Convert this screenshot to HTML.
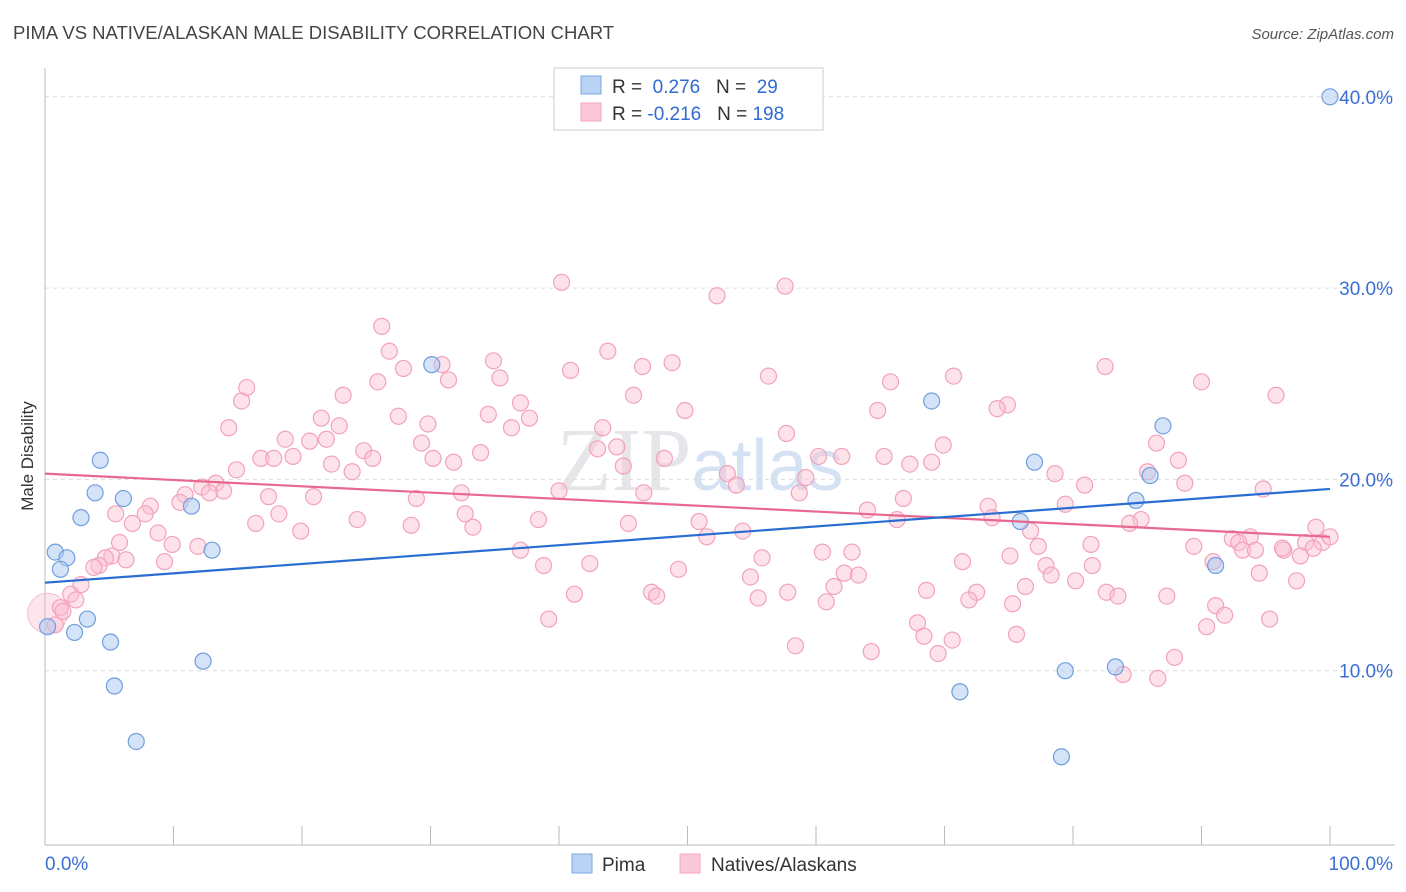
<!DOCTYPE html>
<html><head><meta charset="utf-8"><style>
body{margin:0;background:#fff;font-family:"Liberation Sans",sans-serif;}
svg{display:block}
</style></head><body>
<svg id="chart" width="1406" height="892" xmlns="http://www.w3.org/2000/svg">
<text x="13" y="39" font-size="18.5" fill="#444">PIMA VS NATIVE/ALASKAN MALE DISABILITY CORRELATION CHART</text>
<text x="1394" y="39" font-size="15" fill="#555" text-anchor="end" font-style="italic">Source: ZipAtlas.com</text>
<text transform="translate(33,456) rotate(-90)" font-size="17" fill="#333" text-anchor="middle">Male Disability</text>
<text x="700" y="490" font-size="90" fill="#e6e6ea" text-anchor="middle" font-family="Liberation Serif,serif">ZIP<tspan fill="#d4e2f4" font-family="Liberation Sans,sans-serif" font-size="72">atlas</tspan></text>
<g id="grid"></g><g id="axes"></g><g id="lines"></g><g id="points"></g>
<g>
<rect x="554" y="68" width="269" height="62" fill="#fff" stroke="#ccc"/>
<rect x="581" y="76" width="20" height="18" fill="#b9d3f5" stroke="#7aa7e0"/>
<rect x="581" y="103" width="20" height="18" fill="#fbc8d8" stroke="#f4a6c0"/>
<text x="612" y="93" font-size="19" fill="#333">R = <tspan fill="#2f6bd0">&#160;0.276</tspan>&#160;&#160;&#160;N = <tspan fill="#2f6bd0">&#160;29</tspan></text>
<text x="612" y="120" font-size="19" fill="#333">R = <tspan fill="#2f6bd0">-0.216</tspan>&#160;&#160;&#160;N = <tspan fill="#2f6bd0">198</tspan></text>
</g>
<g>
<rect x="572" y="854" width="20" height="19" fill="#b9d3f5" stroke="#7aa7e0"/>
<text x="602" y="871" font-size="19" fill="#333">Pima</text>
<rect x="680" y="854" width="20" height="19" fill="#fbc8d8" stroke="#f4a6c0"/>
<text x="711" y="871" font-size="19" fill="#333">Natives/Alaskans</text>
</g>
</svg>
<script>
const yTicks=[10,20,30,40];
const pimaX=[100,30.1,4.3,3.9,6.1,11.4,2.8,0.8,1.7,1.2,3.3,0.2,2.3,5.1,13.0,12.3,5.4,7.1,69.0,77.0,87.0,84.9,86.0,75.9,91.1,79.4,83.3,71.2,79.1];
const pimaY=[40.0,26.0,21.0,19.3,19.0,18.6,18.0,16.2,15.9,15.3,12.7,12.3,12.0,11.5,16.3,10.5,9.2,6.3,24.1,20.9,22.8,18.9,20.2,17.8,15.5,10.0,10.2,8.9,5.5];
const natX=[40.2,57.6,52.3,26.2,26.8,43.8,30.9,34.9,48.8,46.5,27.9,40.9,56.3,70.7,82.5,31.4,35.4,25.9,15.7,65.8,90.0,15.3,23.2,37.0,45.8,95.8,74.9,74.1,49.8,64.8,27.5,34.5,21.5,37.7,14.3,29.8,22.9,36.3,43.4,57.7,18.7,21.9,20.6,29.3,44.5,86.5,69.9,43.0,24.8,33.9,16.8,17.8,19.3,25.5,30.2,31.8,60.2,62.0,65.3,48.2,88.2,69.0,67.3,22.3,14.9,23.9,45.0,53.1,78.6,85.8,59.2,53.8,13.3,80.9,88.7,12.2,13.9,10.9,12.8,32.4,40.0,46.6,94.8,17.4,20.9,58.7,28.9,66.8,10.5,8.2,5.5,7.8,18.2,32.7,73.4,79.4,64.0,33.3,38.4,66.3,73.7,85.3,84.4,24.3,6.8,28.5,45.4,50.9,19.9,16.4,8.8,98.9,76.7,54.3,51.5,93.8,5.8,9.9,11.9,92.4,92.9,89.4,77.3,81.4,90.9,93.2,98.1,99.4,100,98.7,94.2,96.4,97.7,96.3,5.2,4.7,37.0,55.8,60.5,62.8,71.4,75.1,6.3,9.3,77.9,4.2,3.8,38.8,42.4,49.3,81.5,94.5,54.9,62.2,63.3,97.4,2.8,78.3,76.3,80.2,61.4,68.6,2.0,2.4,41.2,47.2,47.6,72.5,57.8,55.5,71.9,82.6,83.5,87.3,75.3,1.2,1.4,60.8,91.1,91.8,39.2,95.3,0.8,67.9,90.4,75.6,68.4,70.6,58.4,69.5,87.9,64.3,83.9,86.6];
const natY=[30.3,30.1,29.6,28.0,26.7,26.7,26.0,26.2,26.1,25.9,25.8,25.7,25.4,25.4,25.9,25.2,25.3,25.1,24.8,25.1,25.1,24.1,24.4,24.0,24.4,24.4,23.9,23.7,23.6,23.6,23.3,23.4,23.2,23.2,22.7,22.9,22.8,22.7,22.7,22.4,22.1,22.1,22.0,21.9,21.7,21.9,21.8,21.6,21.5,21.4,21.1,21.1,21.2,21.1,21.1,20.9,21.2,21.2,21.2,21.1,21.0,20.9,20.8,20.8,20.5,20.4,20.7,20.3,20.3,20.4,20.1,19.7,19.8,19.7,19.8,19.6,19.4,19.2,19.3,19.3,19.4,19.3,19.5,19.1,19.1,19.3,19.0,19.0,18.8,18.6,18.2,18.2,18.2,18.2,18.6,18.7,18.4,17.5,17.9,17.9,18.0,17.9,17.7,17.9,17.7,17.6,17.7,17.8,17.3,17.7,17.2,17.5,17.3,17.3,17.0,17.0,16.7,16.6,16.5,16.9,16.7,16.5,16.5,16.6,15.7,16.3,16.7,16.7,17.0,16.4,16.3,16.3,16.0,16.4,16.0,15.9,16.3,15.9,16.2,16.2,15.7,16.0,15.8,15.7,15.5,15.5,15.4,15.5,15.6,15.3,15.5,15.1,14.9,15.1,15.0,14.7,14.5,15.0,14.4,14.7,14.4,14.2,14.0,13.7,14.0,14.1,13.9,14.1,14.1,13.8,13.7,14.1,13.9,13.9,13.5,13.3,13.1,13.6,13.4,12.9,12.7,12.7,12.4,12.5,12.3,11.9,11.8,11.6,11.3,10.9,10.7,11.0,9.8,9.6];
const pimaTrend=[14.6,19.5];
const natTrend=[20.3,17.0];
const NS='http://www.w3.org/2000/svg';
const X=v=>45+v*12.85;
const Y=v=>862-v*19.13;
function mk(tag,attrs,parent){const e=document.createElementNS(NS,tag);for(const k in attrs)e.setAttribute(k,attrs[k]);document.getElementById(parent).appendChild(e);return e;}
yTicks.forEach(t=>{
 const l=mk('line',{x1:45,x2:1395,y1:Y(t),y2:Y(t),stroke:'#dcdcdc','stroke-dasharray':'4,4'},'grid');
 
 
 const tx=mk('text',{x:1393,y:Y(t)+7,'font-size':19,fill:'#3b6fd4','text-anchor':'end'},'grid');
 
 
 tx.textContent=t.toFixed(1)+'%';
});
const ax=mk('line',{x1:45,x2:1395,y1:845,y2:845,stroke:'#bbb'},'axes');


const ay=mk('line',{x1:45,x2:45,y1:68,y2:845,stroke:'#bbb'},'axes');


for(let k=0;k<=10;k++){
 const t=mk('line',{x1:X(k*10),x2:X(k*10),y1:826,y2:845,stroke:'#bbb'},'axes');
 
 
}
const xl0=mk('text',{x:45,y:870,'font-size':19,fill:'#3b6fd4'},'axes');


xl0.textContent='0.0%';
const xl1=mk('text',{x:1393,y:870,'font-size':19,fill:'#3b6fd4','text-anchor':'end'},'axes');


xl1.textContent='100.0%';
const big=mk('circle',{cx:X(0.2),cy:Y(13.0),r:20,fill:'rgba(248,180,200,0.35)',stroke:'#f4c0d0'},'points');


natX.forEach((x,i)=>{
 const c=mk('circle',{cx:X(x),cy:Y(natY[i]),r:8,fill:'rgba(250,190,208,0.45)',stroke:'#f2a2bd','stroke-width':1.2},'points');
 
 
});
pimaX.forEach((x,i)=>{
 const c=mk('circle',{cx:X(x),cy:Y(pimaY[i]),r:8,fill:'rgba(170,200,242,0.5)',stroke:'#6f9fdc','stroke-width':1.2},'points');
 
 
});
const pl=mk('line',{x1:X(0),x2:X(100),y1:Y(natTrend[0]),y2:Y(natTrend[1]),stroke:'#e8688f','stroke-width':2.2},'points');


const bl=mk('line',{x1:X(0),x2:X(100),y1:Y(pimaTrend[0]),y2:Y(pimaTrend[1]),stroke:'#2a6dd2','stroke-width':2.2},'points');


</script>
</body></html>
